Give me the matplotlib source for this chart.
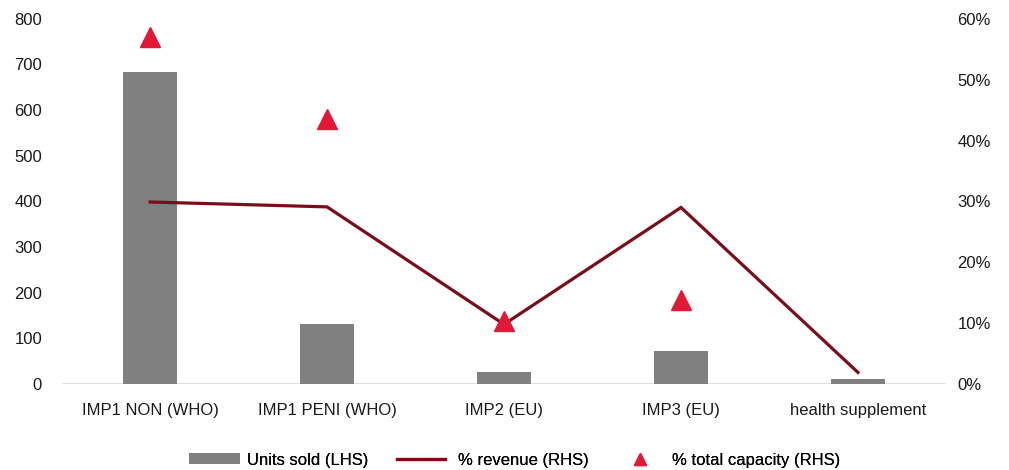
import matplotlib
matplotlib.use("Agg")
import matplotlib.pyplot as plt
from matplotlib.ticker import FuncFormatter

plt.rcParams["font.family"] = ["Liberation Sans", "DejaVu Sans"]

categories = ["IMP1 NON (WHO)", "IMP1 PENI (WHO)", "IMP2 (EU)", "IMP3 (EU)", "health supplement"]
units_sold = [684, 131, 26, 72, 10]
pct_revenue = [0.299, 0.291, 0.098, 0.290, 0.019]
pct_capacity = [0.570, 0.436, 0.103, 0.138]

bar_color = "#808080"
line_color = "#7B0C1A"
tri_color = "#E31837"
fs = 12

fig = plt.figure(figsize=(10.09, 4.70), dpi=100)
ax = fig.add_axes([0.061, 0.183, 0.877, 0.777])
ax2 = ax.twinx()

x = list(range(len(categories)))
bars = ax.bar(x, units_sold, width=0.31, color=bar_color, label="Units sold (LHS)", zorder=2)
line, = ax2.plot(x, pct_revenue, color=line_color, lw=2.3, label="% revenue (RHS)",
                 solid_joinstyle="miter", zorder=3)
tris, = ax2.plot(x[:len(pct_capacity)], pct_capacity, ls="none", marker="^", ms=14,
                 color=tri_color, label="% total capacity (RHS)", zorder=4)

ax.set_xlim(-0.5, 4.5)
ax.set_ylim(0, 800)
ax2.set_ylim(0, 0.6)
ax.set_yticks(range(0, 801, 100))
ax2.set_yticks([i / 10 for i in range(7)])
ax2.yaxis.set_major_formatter(FuncFormatter(lambda v, p: f"{v:.0%}"))

ax.set_xticks(x)
ax.set_xticklabels(categories)
for a in (ax, ax2):
    for s in a.spines.values():
        s.set_visible(False)
    a.tick_params(length=0, labelsize=fs, colors="#1a1a1a")
ax.tick_params(axis="x", pad=14)
ax.tick_params(axis="y", pad=14)
ax2.tick_params(axis="y", pad=8)
ax.axhline(0, color="#d9d9d9", lw=1.2, zorder=1)

# one legend per entry so each can sit where it should along the bottom
legend_items = [
    (bars, 189 / 1009, 3.05, 0.42, 1.0),
    (line, 397 / 1009, 2.9, 0.78, 1.0),
    (tris, 624 / 1009, 1.9, 0.96, 0.6),
]
for handle, x0, hl, pad, scale in legend_items:
    leg = fig.legend(handles=[handle], loc="center left", bbox_to_anchor=(x0, 0.021),
                     frameon=False, fontsize=fs, handlelength=hl, handleheight=0.65,
                     handletextpad=pad, borderpad=0, borderaxespad=0, markerscale=scale)
    fig.add_artist(leg)

fig.savefig("out.png", dpi=100)
